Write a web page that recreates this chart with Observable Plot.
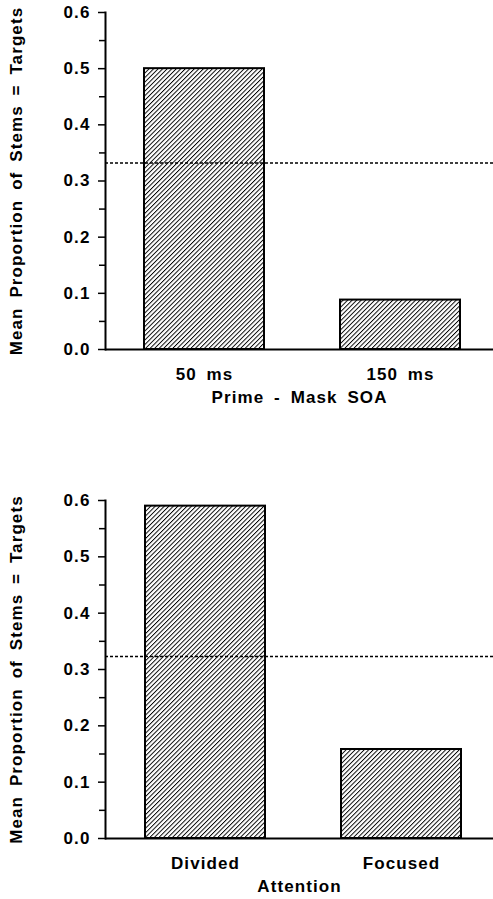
<!DOCTYPE html>
<html>
<head>
<meta charset="utf-8">
<script src="https://cdn.jsdelivr.net/npm/d3@7"></script>
<script src="https://cdn.jsdelivr.net/npm/@observablehq/plot@0.6"></script>
<style>
  html, body { margin: 0; padding: 0; background: #fff; }
  #charts svg { display: block; }
  #charts { width: 493px; }
</style>
</head>
<body>
<div id="charts"></div>
<svg width="0" height="0" style="position:absolute">
  <defs>
    <pattern id="hatch" width="3.2" height="3.2" patternUnits="userSpaceOnUse" patternTransform="rotate(45)">
      <rect x="0" y="0" width="3.2" height="3.2" fill="#fff"></rect>
      <rect x="0" y="0" width="0.95" height="3.2" fill="#000"></rect>
    </pattern>
  </defs>
</svg>
<script>
// ---- data ----
const soaCategories = ["50 ms", "150 ms"];
const soaValues = [0.50, 0.088];
const soaChance = 0.332;

const attentionCategories = ["Divided", "Focused"];
const attentionValues = [0.59, 0.158];
const attentionChance = 0.323;

const yTicks = [0, 0.1, 0.2, 0.3, 0.4, 0.5, 0.6];
const yMinorTicks = [0.05, 0.15, 0.25, 0.35, 0.45, 0.55];
const yLabel = "Mean Proportion of Stems = Targets";

const font = "'Liberation Sans', Arial, Helvetica, sans-serif";

function makeChart({categories, values, chance, xLabel, height, marginTop, marginBottom, xRange}) {
  const data = categories.map((c, i) => ({cat: c, value: values[i]}));
  return Plot.plot({
    width: 493,
    height,
    marginTop,
    marginBottom,
    marginLeft: 105,
    marginRight: 0,
    style: {fontFamily: font, fontSize: "17px", fontWeight: "bold", color: "#000", background: "#fff", overflow: "visible"},
    x: {domain: categories, range: xRange, paddingInner: 0.39, paddingOuter: 0, label: null},
    y: {domain: [0, 0.6], label: null},
    marks: [
      Plot.barY(data, {x: "cat", y: "value", fill: "url(#hatch)", stroke: "#000", strokeWidth: 2}),
      Plot.ruleY([chance], {stroke: "#000", strokeWidth: 1.5, strokeDasharray: "3,2"}),
      Plot.ruleY([0], {stroke: "#000", strokeWidth: 2.2}),
      Plot.frame({anchor: "left", stroke: "#000", strokeWidth: 2}),
      Plot.axisY(yMinorTicks, {tickSize: 6, text: null, stroke: "#000", strokeWidth: 1.5}),
      Plot.axisY(yTicks, {tickSize: 7, tickPadding: 8, tickFormat: d3.format(".1f"), stroke: "#000", strokeWidth: 1.5,
        fontSize: 17, fontWeight: "bold", fill: "#000",
        label: yLabel, labelAnchor: "center", labelOffset: 96, labelArrow: "none"}),
      Plot.axisX({tickSize: 0, tickPadding: 18, fontSize: 17, fontWeight: "bold", fill: "#000",
        label: xLabel, labelAnchor: "center", labelOffset: 53, labelArrow: "none"})
    ]
  });
}

const topChart = makeChart({
  categories: soaCategories, values: soaValues, chance: soaChance,
  xLabel: "Prime - Mask SOA", height: 430, marginTop: 12, marginBottom: 81, xRange: [143, 460]
});
const bottomChart = makeChart({
  categories: attentionCategories, values: attentionValues, chance: attentionChance,
  xLabel: "Attention", height: 469, marginTop: 70, marginBottom: 61, xRange: [145, 461]
});

const container = document.getElementById("charts");
for (const chart of [topChart, bottomChart]) {
  chart.style.wordSpacing = "4px";
  chart.style.letterSpacing = "1.1px";
  container.appendChild(chart);
}
</script>
</body>
</html>
